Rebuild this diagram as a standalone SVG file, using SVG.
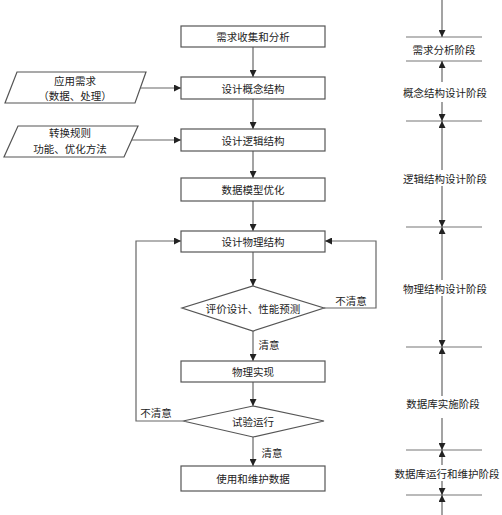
<svg xmlns="http://www.w3.org/2000/svg" width="502" height="515" viewBox="0 0 502 515">
<defs>
<marker id="ah" markerUnits="userSpaceOnUse" markerWidth="7" markerHeight="7" refX="7" refY="3.5" orient="auto">
<path d="M0,0 L7,3.5 L0,7 z" fill="#222"/>
</marker>
<style>
.box{fill:#fff;stroke:#555;stroke-width:1.2}
.ln{fill:none;stroke:#666;stroke-width:1.2}
.hl{fill:none;stroke:#777;stroke-width:1.2}
text{font-family:"Noto Sans CJK SC","Liberation Sans",sans-serif;font-size:10.5px;fill:#222;text-anchor:middle;dominant-baseline:central}
</style>
</defs>
<rect width="502" height="515" fill="#fff"/>
<g id="connectors">
<line class="ln" x1="253" y1="47" x2="253" y2="77" marker-end="url(#ah)"/>
<line class="ln" x1="253" y1="99" x2="253" y2="129" marker-end="url(#ah)"/>
<line class="ln" x1="253" y1="151" x2="253" y2="178" marker-end="url(#ah)"/>
<line class="ln" x1="253" y1="201" x2="253" y2="231" marker-end="url(#ah)"/>
<line class="ln" x1="253" y1="252" x2="253" y2="286" marker-end="url(#ah)"/>
<line class="ln" x1="253" y1="331" x2="253" y2="361" marker-end="url(#ah)"/>
<line class="ln" x1="253" y1="382" x2="253" y2="406" marker-end="url(#ah)"/>
<line class="ln" x1="253" y1="437" x2="253" y2="466" marker-end="url(#ah)"/>
<line class="ln" x1="135" y1="88" x2="181" y2="88" marker-end="url(#ah)"/>
<line class="ln" x1="131" y1="140" x2="181" y2="140" marker-end="url(#ah)"/>
<polyline class="ln" points="324,308 376,308 376,241 325,241" marker-end="url(#ah)"/>
<polyline class="ln" points="183,421 136,421 136,241 181,241" marker-end="url(#ah)"/>
<text x="351" y="300">不清意</text>
<text x="269" y="344">清意</text>
<text x="156" y="412">不清意</text>
<text x="272" y="452">清意</text>
</g>
<g id="n1"><rect class="box" x="181" y="26" width="144" height="21"/><text x="253" y="36.5">需求收集和分析</text></g>
<g id="n2"><rect class="box" x="181" y="77" width="144" height="22"/><text x="253" y="88">设计概念结构</text></g>
<g id="n3"><rect class="box" x="181" y="129" width="144" height="22"/><text x="253" y="140">设计逻辑结构</text></g>
<g id="n4"><rect class="box" x="181" y="178" width="144" height="23"/><text x="253" y="189.5">数据模型优化</text></g>
<g id="n5"><rect class="box" x="181" y="231" width="144" height="21"/><text x="253" y="241.5">设计物理结构</text></g>
<g id="n6"><polygon class="box" points="253,286 324,308 253,331 182,308"/><text x="253" y="308">评价设计、性能预测</text></g>
<g id="n7"><rect class="box" x="181" y="361" width="144" height="21"/><text x="253" y="371.5">物理实现</text></g>
<g id="n8"><polygon class="box" points="253,406 324,421 253,437 183,421"/><text x="253" y="421">试验运行</text></g>
<g id="n9"><rect class="box" x="181" y="466" width="144" height="25"/><text x="253" y="478.5">使用和维护数据</text></g>
<g id="p1"><polygon class="box" points="17,72 146,72 135,103 5,103"/><text x="75" y="80">应用需求</text><text x="75" y="95">（数据、处理）</text></g>
<g id="p2"><polygon class="box" points="18,126 138,126 124,157 4,157"/><text x="70" y="132.5">转换规则</text><text x="70" y="148">功能、优化方法</text></g>
<g id="stages">
<line class="hl" x1="406" y1="37" x2="482" y2="37"/>
<line class="hl" x1="406" y1="61" x2="482" y2="61"/>
<line class="hl" x1="406" y1="121" x2="482" y2="121"/>
<line class="hl" x1="406" y1="227" x2="482" y2="227"/>
<line class="hl" x1="406" y1="347" x2="482" y2="347"/>
<line class="hl" x1="406" y1="450" x2="482" y2="450"/>
<line class="hl" x1="406" y1="495" x2="482" y2="495"/>
<line class="ln" x1="442" y1="0" x2="442" y2="37" marker-end="url(#ah)"/>
<line class="ln" x1="442" y1="82" x2="442" y2="61" marker-end="url(#ah)"/>
<line class="ln" x1="442" y1="102" x2="442" y2="121" marker-end="url(#ah)"/>
<line class="ln" x1="442" y1="170" x2="442" y2="121" marker-end="url(#ah)"/>
<line class="ln" x1="442" y1="186" x2="442" y2="227" marker-end="url(#ah)"/>
<line class="ln" x1="442" y1="280" x2="442" y2="227" marker-end="url(#ah)"/>
<line class="ln" x1="442" y1="296" x2="442" y2="347" marker-end="url(#ah)"/>
<line class="ln" x1="442" y1="396" x2="442" y2="347" marker-end="url(#ah)"/>
<line class="ln" x1="442" y1="418" x2="442" y2="450" marker-end="url(#ah)"/>
<line class="ln" x1="442" y1="465" x2="442" y2="450" marker-end="url(#ah)"/>
<line class="ln" x1="442" y1="481" x2="442" y2="495" marker-end="url(#ah)"/>
<line class="ln" x1="442" y1="515" x2="442" y2="495" marker-end="url(#ah)"/>
<text x="444" y="49">需求分析阶段</text>
<text x="445" y="92">概念结构设计阶段</text>
<text x="445" y="178">逻辑结构设计阶段</text>
<text x="445" y="288">物理结构设计阶段</text>
<text x="443" y="403">数据库实施阶段</text>
<text x="447" y="473">数据库运行和维护阶段</text>
</g>
</svg>
